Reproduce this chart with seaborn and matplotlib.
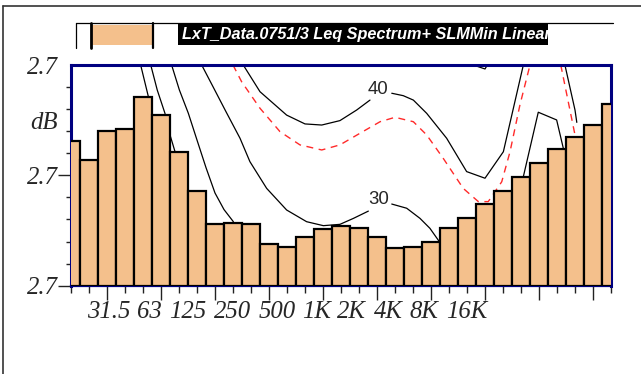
import matplotlib
matplotlib.use("Agg")
import matplotlib.pyplot as plt
import numpy as np
import pandas as pd
import seaborn as sns
from matplotlib.lines import Line2D
from matplotlib.patches import Rectangle

# ---------------- data ----------------
bands = list(range(31))
levels = [6.56, 5.70, 7.01, 7.09, 8.55, 7.73, 6.07, 4.29, 2.80, 2.83, 2.80,
          1.89, 1.74, 2.19, 2.57, 2.72, 2.63, 2.21, 1.72, 1.74, 1.97,
          2.60, 3.08, 3.70, 4.29, 4.91, 5.56, 6.18, 6.75, 7.28, 8.22]

x_labels = ["31.5", "63", "125", "250", "500", "1K", "2K", "4K", "8K", "16K"]
x_label_pos = [2.07, 4.34, 6.46, 8.95, 11.43, 13.62, 15.6, 17.63, 19.62, 21.98]
long_ticks = [2, 5, 8, 11, 14, 17, 20, 23, 26, 29]
y_labels = ["2.7", "2.7", "2.7"]
y_label_pos = [0, 5, 10]
y_minor = [1, 2, 3, 4, 6, 7, 8, 9]

legend_text = "LxT_Data.0751/3 Leq Spectrum+ SLMMin Linear"

# curves (black solid)
c1_x = [3.87, 4.30, 4.6]
c1_y = [10.0, 8.56, 7.3]
c2_x = [4.43, 4.79, 5.22, 5.5, 5.78, 6.1]
c2_y = [10.0, 8.87, 7.81, 6.83, 6.07, 5.3]
c3_x = [5.59, 6.02, 6.52, 7.0, 7.5, 8.0, 8.5, 9.02]
c3_y = [10.0, 8.87, 7.81, 6.6, 5.35, 4.2, 3.45, 2.9]
c30a_x = [7.26, 7.9, 8.6, 9.39, 9.94, 10.87, 11.98, 13.09, 14.02, 14.94, 15.69, 16.52]
c30a_y = [10.0, 9.0, 7.9, 6.68, 5.62, 4.41, 3.43, 2.90, 2.72, 2.78, 3.05, 3.38]
c30b_x = [17.82, 18.65, 19.39, 19.94, 20.46]
c30b_y = [3.70, 3.51, 3.05, 2.60, 2.0]
c40a_x = [9.57, 10.5, 11.98, 13.0, 13.93, 14.94, 15.87, 16.61]
c40a_y = [10.0, 8.79, 7.73, 7.33, 7.28, 7.48, 7.96, 8.41]
c40b_x = [17.82, 18.46, 19.02, 19.76, 20.87, 21.98, 23.0, 24.02, 25.13]
c40b_y = [8.72, 8.61, 8.41, 7.81, 6.68, 5.17, 4.87, 6.07, 10.0]
c50_x = [22.35, 23.0, 23.13]
c50_y = [10.0, 9.82, 10.0]
cr1_x = [24.95, 25.13, 25.96, 26.98, 27.35, 27.45]
cr1_y = [4.3, 4.94, 7.86, 7.51, 6.23, 5.8]
cr2_x = [27.44, 28.0, 28.1]
cr2_y = [10.0, 7.96, 7.4]
# red dashed curve
rd_x = [9.0, 9.48, 10.5, 11.61, 12.72, 13.93, 14.94, 16.06, 17.17, 18.0, 19.02,
        19.76, 20.68, 21.79, 22.63, 23.18, 23.93, 24.39, 24.94, 25.5]
rd_y = [10.0, 9.24, 8.04, 6.98, 6.38, 6.15, 6.38, 6.91, 7.43, 7.63, 7.43,
        6.83, 5.77, 4.41, 3.81, 3.81, 4.71, 6.07, 8.19, 10.0]
rd2_x = [27.21, 28.0, 28.1]
rd2_y = [10.0, 6.83, 6.4]
lab30 = (17.07, 3.92)
lab40 = (17.03, 8.90)

# ---------------- figure ----------------
sns.set_style("white")
W, H = 641, 374
fig = plt.figure(figsize=(W / 100, H / 100), dpi=100)


def fx(x):
    return x / W


def fy(y):
    return 1 - y / H


BAR = "#F4C08C"
NAVY = "#000080"
SERIF = ["Liberation Serif", "DejaVu Serif"]

ax = fig.add_axes([fx(71), fy(285.7), fx(611) - fx(71), fy(65) - fy(285.7)])
ax.set_facecolor("white")

df = pd.DataFrame({"band": bands, "level": levels})
sns.barplot(data=df, x="band", y="level", color=BAR, saturation=1, width=1.0,
            edgecolor="black", linewidth=1.6, ax=ax, zorder=3)

line_kw = dict(color="black", lw=0.9, zorder=1, solid_joinstyle="round")
for xs, ys in [(c1_x, c1_y), (c2_x, c2_y), (c3_x, c3_y), (c30a_x, c30a_y),
               (c30b_x, c30b_y), (c40a_x, c40a_y), (c40b_x, c40b_y),
               (c50_x, c50_y), (cr1_x, cr1_y), (cr2_x, cr2_y)]:
    ax.plot(xs, ys, **line_kw)
for xs, ys in [(rd_x, rd_y), (rd2_x, rd2_y)]:
    ax.plot(xs, ys, color="#ff2a2a", lw=1.0, dashes=(5, 4), zorder=1)

ax.text(lab30[0], lab30[1], "30", fontsize=13.4, family=["Liberation Sans"],
        ha="center", va="center", zorder=4)
ax.text(lab40[0], lab40[1], "40", fontsize=13.4, family=["Liberation Sans"],
        ha="center", va="center", zorder=4)

ax.set_xlim(0, 30)
ax.set_ylim(0, 10)
ax.set_xlabel("")
ax.set_ylabel("")

for name, sp in ax.spines.items():
    sp.set_visible(True)
    sp.set_color(NAVY)
    sp.set_linewidth(2.2 if name != "bottom" else 1.6)

# x tick labels (no marks)
ax.set_xticks(x_label_pos)
ax.set_xticklabels(x_labels, fontsize=17.8, fontstyle="italic", family=SERIF)
ax.tick_params(axis="x", which="both", length=0, pad=11)

# x tick marks
sec = ax.secondary_xaxis("bottom")
sec.set_xticks(long_ticks)
sec.set_xticks(bands, minor=True)
sec.tick_params(which="major", length=10, width=1.0, color="#222222", labelbottom=False)
sec.tick_params(which="minor", length=5, width=1.0, color="#222222")
sec.spines["bottom"].set_visible(False)

# y ticks
ax.set_yticks(y_label_pos)
ax.set_yticklabels(y_labels, fontsize=17.8, fontstyle="italic", family=SERIF)
ax.set_yticks(y_minor, minor=True)
ax.tick_params(axis="y", which="major", left=True, length=9.4, width=1.0, color="#222222", pad=0)
ax.tick_params(axis="y", which="minor", left=True, length=3.6, width=1.0, color="#222222")
ax.yaxis.get_major_ticks()[-1].tick1line.set_visible(False)

fig.text(fx(58), fy(123), "dB", ha="right", va="center", fontsize=17.8,
         fontstyle="italic", family=SERIF)

# figure frame lines
fig.add_artist(Line2D([fx(3.3), fx(641)], [fy(6.3), fy(6.3)], color="#333333", lw=1.2))
fig.add_artist(Line2D([fx(3.3), fx(3.3)], [fy(6.3), fy(374)], color="#333333", lw=1.2))

# legend
fig.add_artist(Line2D([fx(76), fx(613)], [fy(23.3), fy(23.3)], color="black", lw=0.9))
fig.add_artist(Line2D([fx(76), fx(76)], [fy(23.3), fy(47.5)], color="black", lw=0.9))
fig.add_artist(Rectangle((fx(91.7), fy(45)), fx(152.7) - fx(91.7), fy(25) - fy(45),
                         transform=fig.transFigure, facecolor=BAR, edgecolor="none"))
fig.add_artist(Line2D([fx(91.3), fx(91.3)], [fy(23.3), fy(47.7)], color="black", lw=2.0))
fig.add_artist(Line2D([fx(152.5), fx(152.5)], [fy(23.3), fy(47.7)], color="black", lw=1.6))

lax = fig.add_axes([fx(178.3), fy(45), fx(547.7) - fx(178.3), fy(23.3) - fy(45)])
lax.set_facecolor("black")
lax.set_xticks([])
lax.set_yticks([])
for sp in lax.spines.values():
    sp.set_visible(False)
lax.text(0.009, 0.47, legend_text, transform=lax.transAxes, color="white",
         fontsize=11.7, fontweight="bold", fontstyle="italic",
         family=["Liberation Sans Narrow", "Liberation Sans"],
         ha="left", va="center", clip_on=True)

fig.savefig("out.png", dpi=100, facecolor="white")
